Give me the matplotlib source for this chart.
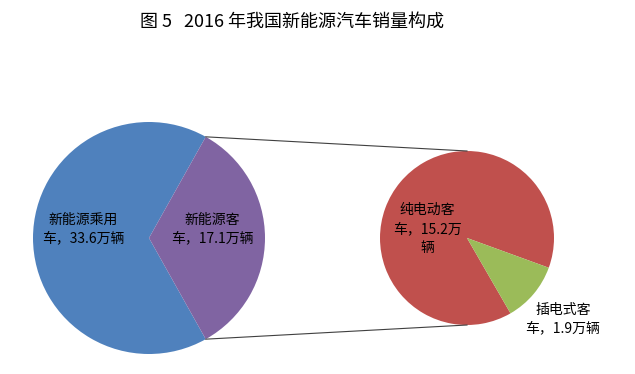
import matplotlib
matplotlib.use('Agg')
import matplotlib.pyplot as plt
import numpy as np

plt.rcParams['font.family'] = ['Noto Sans CJK SC', 'DejaVu Sans']

# data
main_labels = ['新能源乘用\n车，33.6万辆', '新能源客\n车，17.1万辆']
main_values = [33.6, 17.1]
sub_labels = ['纯电动客\n车，15.2万\n辆', '插电式客\n车，1.9万辆']
sub_values = [15.2, 1.9]
main_colors = ['#4F81BD', '#8064A2']
sub_colors = ['#C0504D', '#9BBB59']

W, H = 635, 374
fig = plt.figure(figsize=(W / 100, H / 100), dpi=100)
ax = fig.add_axes([0, 0, 1, 1])

# left pie, bus slice centred on the right side
c1, r1 = (149, H - 238), 116
half = 360 * main_values[1] / sum(main_values) / 2
ax.pie(main_values, colors=main_colors, center=c1, radius=r1,
       startangle=half, counterclock=True,
       wedgeprops=dict(linewidth=0, edgecolor='none'), frame=True)

# right pie (breakdown of buses)
c2, r2 = (467, H - 238), 87
ax.pie(sub_values, colors=sub_colors, center=c2, radius=r2,
       startangle=-20, counterclock=True,
       wedgeprops=dict(linewidth=0, edgecolor='none'), frame=True)
ax.set_xlim(0, W)
ax.set_ylim(0, H)
ax.set_aspect('equal')
ax.axis('off')

# connector lines
a = np.radians(half)
for s in (1, -1):
    x0 = c1[0] + r1 * np.cos(a)
    y0 = c1[1] + s * r1 * np.sin(a)
    ax.plot([x0, c2[0]], [y0, c2[1] + s * r2], color='#404040', lw=0.8)

lbl = dict(ha='center', va='center', fontsize=10, linespacing=1.45)
ax.text(83, H - 229, main_labels[0], **lbl)
ax.text(212, H - 229, main_labels[1], **lbl)
ax.text(427, H - 229, sub_labels[0], **lbl)
ax.text(563, H - 319, sub_labels[1], **lbl)

fig.text(292 / W, 1 - 22 / H, '图 5   2016 年我国新能源汽车销量构成',
         ha='center', va='center', fontsize=13)

plt.savefig('out.png', dpi=100)
